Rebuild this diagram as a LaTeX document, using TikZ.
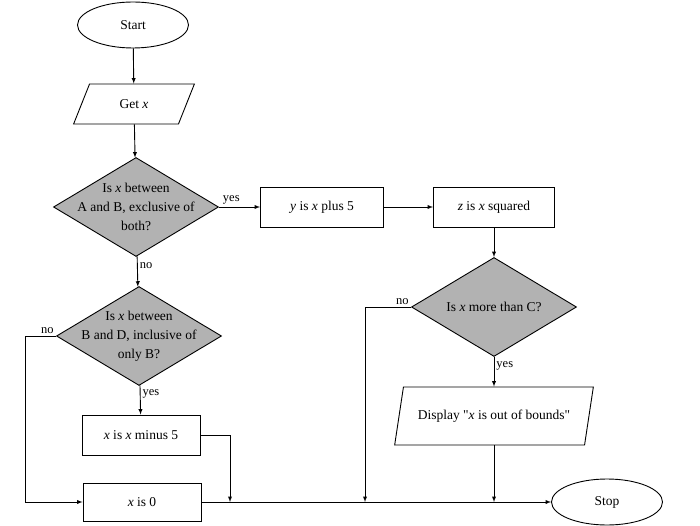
\documentclass[tikz,border=0pt]{standalone}
\usepackage{fontspec}
\setmainfont{Liberation Serif}
\usetikzlibrary{shapes.geometric}

\begin{document}
\begin{tikzpicture}[x=1pt,y=-1pt,>=latex,line width=0.9pt,
        every node/.style={font=\fontsize{13.5}{19}\selectfont},
        terminal/.style={draw,ellipse,minimum width=111pt,minimum height=46pt},
        process/.style={draw,rectangle,minimum width=121pt,minimum height=40pt},
        io/.style={draw,trapezium,trapezium left angle=68,trapezium right angle=112,
            trapezium stretches=true,minimum width=121pt,minimum height=40pt},
        decision/.style={draw,diamond,fill=gray!60,minimum width=165pt,minimum height=99pt,inner sep=0pt},
        answer/.style={font=\fontsize{12.5}{14}\selectfont,inner sep=2pt}]
            \useasboundingbox (0,0) rectangle (700,526);

            % left column
            \node[terminal] (start) at (133,25) {Start};
            \node[io] (getx) at (134,104) {Get \textit{x}};
            \node[decision,label={[align=center]center:Is \textit{x} between\\A and B, exclusive of\\both?}] (q1) at (136,207) {};
            \node[decision,label={[align=center]center:Is \textit{x} between\\B and D, inclusive of\\only B?}] (q2) at (139,336) {};
            \node[process,minimum width=118pt] (minus) at (141,435) {\textit{x} is \textit{x} minus 5};
            \node[process,minimum width=118pt,minimum height=38pt] (zero) at (142,502) {\textit{x} is 0};

            % right part
            \node[process,minimum width=123pt] (plus) at (322,207) {\textit{y} is \textit{x} plus 5};
            \node[process] (sq) at (494,207) {\textit{z} is \textit{x} squared};
            \node[decision,label={[align=center]center:Is \textit{x} more than C?}] (q3) at (494,307) {};
            \node[io,minimum width=199pt,minimum height=58pt] (disp) at (494,416) {Display \textquotedbl\textit{x} is out of bounds\textquotedbl};
            \node[terminal] (stop) at (607,502) {Stop};

            % joints on the bottom line
            \coordinate (j0) at (25,502);
            \coordinate (j1) at (230,502);
            \coordinate (j2) at (365,502);
            \coordinate (j3) at (494,502);

            \draw[->] (start) -- (getx);
            \draw[->] (getx) -- (q1);
            \draw[->] (q1) -- node[answer,above,pos=0.3] {yes} (plus);
            \draw[->] (plus) -- (sq);
            \draw[->] (sq) -- (q3);
            \draw[->] (q3) -- node[answer,right,pos=0.3] {yes} (disp);
            \draw[->] (q1) -- node[answer,right,pos=0.3] {no} (q2);
            \draw[->] (q2) -- node[answer,right,pos=0.3] {yes} (minus);
            \draw[->] (q2.west) node[answer,above left] {no} -| (j0) -- (zero);
            \draw[->] (minus.east) -| (j1);
            \draw[->] (q3.west) node[answer,above left] {no} -| (j2);
            \draw[->] (disp) -- (j3);
            \draw[->] (zero) -- (stop);
\end{tikzpicture}
\end{document}
